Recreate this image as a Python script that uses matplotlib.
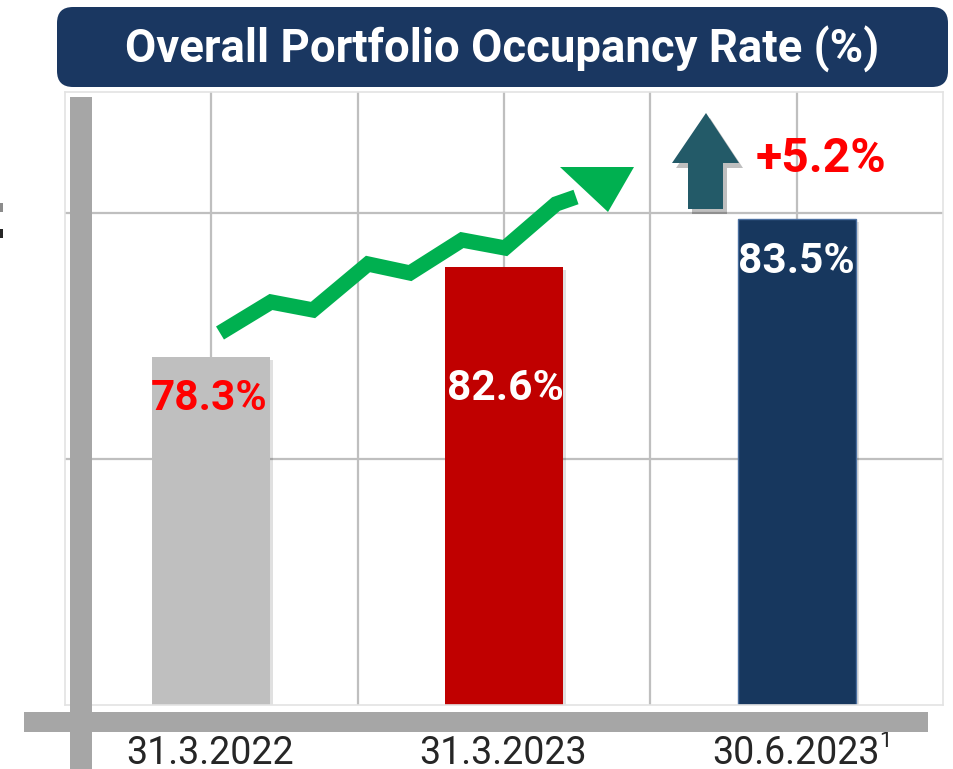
import matplotlib
matplotlib.use("Agg")
import matplotlib.pyplot as plt
from matplotlib.patches import FancyBboxPatch, Rectangle, Polygon
from matplotlib.lines import Line2D
from matplotlib.transforms import IdentityTransform

# ---- data ----
categories = ["31.3.2022", "31.3.2023", "30.6.2023"]
occupancy = [78.3, 82.6, 83.5]               # labels shown on bars (%)
bar_heights = [1.415, 1.78, 1.976]           # bar heights as drawn (in grid units)
bar_colors = ["#BFBFBF", "#C00000", "#17375E"]
label_colors = ["#FF0000", "#FFFFFF", "#FFFFFF"]
change_label = "+5.2%"
title = "Overall Portfolio Occupancy Rate (%)"

W, H = 954, 769
fig = plt.figure(figsize=(W / 100, H / 100), dpi=100)
fig.patch.set_facecolor("white")

def fx(x):
    return x / W

def fy(y):
    return 1 - y / H

def px(x, y):
    return (x, H - y)

FONT = "Roboto"

# ---- axes ----
ax = fig.add_axes([fx(65), fy(705), fx(943) - fx(65), fy(92) - fy(705)])
ax.set_xlim(0, 6)
ax.set_ylim(0, 2.49)
xpos = [1, 3, 5]
for v in [1, 2, 3, 4, 5]:
    ax.axvline(v, color="#BFBFBF", lw=1.6, zorder=0)
for v in [1, 2]:
    ax.axhline(v, color="#BFBFBF", lw=1.6, zorder=0)
for s in ax.spines.values():
    s.set_color("#E3E3E3")
    s.set_linewidth(1.2)

# bar shadows
for x, h in zip(xpos, bar_heights):
    ax.bar(x + 0.02, h, width=0.807, bottom=-0.015, color="#000000", alpha=0.12, zorder=1)
bars = ax.bar(xpos, bar_heights, width=0.807, color=bar_colors, zorder=2)
bars[2].set_edgecolor("#4A6FA0")
bars[2].set_linewidth(1.0)

ax.set_xticks(xpos)
ax.set_xticklabels([])
ax.set_yticks([])
ax.tick_params(length=0)

# value labels (baseline placement in pixels)
label_pos = [(209, 410), (505, 400), (796, 273)]
for (x, y), val, c in zip(label_pos, occupancy, label_colors):
    fig.text(fx(x), fy(y), f"{val:.1f}%", color=c, fontsize=30.5, fontweight="bold",
             family=FONT, ha="center", va="baseline", zorder=10)

# ---- thick gray axis bars ----
fig.patches.append(Rectangle(px(24, 732), 928 - 24, 20, transform=IdentityTransform(),
                             facecolor="#A6A6A6", edgecolor="none", zorder=5))
fig.patches.append(Rectangle(px(70, 769), 22, 769 - 97, transform=IdentityTransform(),
                             facecolor="#A6A6A6", edgecolor="none", zorder=5))

# tick labels
tick_x = [210, 503, 796]
for x, lab in zip(tick_x, categories):
    fig.text(fx(x), fy(764), lab, color="#262626", fontsize=27, family=FONT,
             ha="center", va="baseline")
fig.text(fx(879), fy(747), "1", color="#262626", fontsize=16, family=FONT,
         ha="left", va="baseline")

# ---- title box ----
fig.patches.append(FancyBboxPatch(px(57, 87), 948 - 57, 80,
                                  boxstyle="round,pad=0,rounding_size=16",
                                  transform=IdentityTransform(),
                                  facecolor="#1A3761", edgecolor="none", zorder=6))
fig.text(fx(502), fy(63), title, color="white", fontsize=32.8, fontweight="bold",
         family=FONT, ha="center", va="baseline", zorder=7)

# ---- green zigzag arrow ----
zig = [(220, 333), (271, 302), (313, 310), (368, 264), (410, 273), (462, 240),
       (505, 248), (556, 204), (576, 197)]
zx = [p[0] for p in zig]
zy = [H - p[1] for p in zig]
fig.lines.append(Line2D(zx, zy, transform=IdentityTransform(), color="#00B050",
                        lw=11, solid_joinstyle="miter", solid_capstyle="butt", zorder=8))
fig.patches.append(Polygon([px(560, 167), px(634, 167), px(608, 212)], closed=True,
                           transform=IdentityTransform(), facecolor="#00B050",
                           edgecolor="none", zorder=8))

# ---- up arrow ----
up = [(706, 113), (739, 163), (723, 163), (723, 209), (688, 209), (688, 163), (672, 163)]
fig.patches.append(Polygon([px(x + 4, y + 5) for x, y in up], closed=True,
                           transform=IdentityTransform(), facecolor="#000000",
                           alpha=0.25, edgecolor="none", zorder=7))
fig.patches.append(Polygon([px(x, y) for x, y in up], closed=True,
                           transform=IdentityTransform(), facecolor="#235A68",
                           edgecolor="none", zorder=8))
fig.text(fx(821), fy(172), change_label, color="#FF0000", fontsize=34.5, fontweight="bold",
         family=FONT, ha="center", va="baseline", zorder=10)

# small marks at left edge
fig.patches.append(Rectangle(px(0, 212), 3, 9, transform=IdentityTransform(),
                             facecolor="#8C8C8C", edgecolor="none"))
fig.patches.append(Rectangle(px(0, 238), 3, 9, transform=IdentityTransform(),
                             facecolor="#262626", edgecolor="none"))

fig.savefig("out.png", dpi=100)
